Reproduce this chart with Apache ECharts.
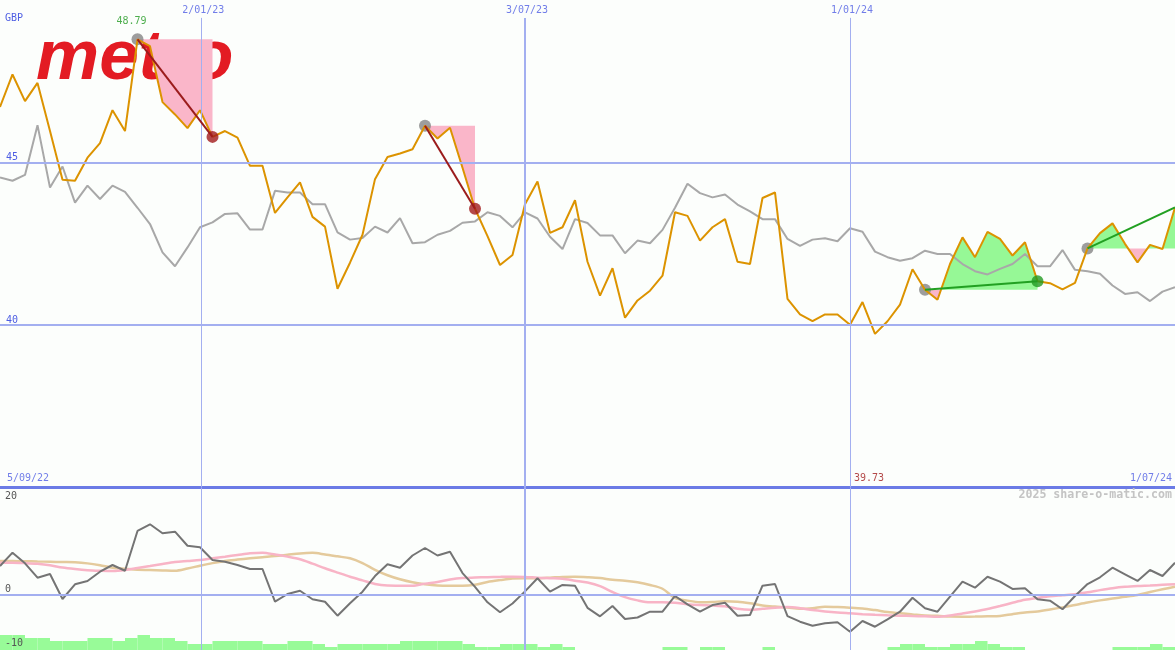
<!DOCTYPE html>
<html><head><meta charset="utf-8">
<script src="https://cdn.jsdelivr.net/npm/echarts@6/dist/echarts.min.js"></script>
<style>html,body{margin:0;padding:0;background:#fcfefc}#c{width:1175px;height:650px}</style>
</head><body><div id="c"></div><script>
// ---- data (weekly points, index 0 = 5/09/22, index 94 = 1/07/24) ----
const price = [46.71,47.71,46.89,47.45,45.97,44.47,44.44,45.15,45.60,46.61,
45.97,48.79,48.58,46.86,46.48,46.06,46.61,45.79,45.97,45.77,
44.90,44.90,43.45,43.93,44.39,43.33,43.03,41.12,41.92,42.78,
44.49,45.17,45.28,45.41,46.13,45.74,46.07,44.84,43.58,42.74,
41.85,42.16,43.72,44.42,42.84,43.01,43.84,41.95,40.91,41.75,
40.23,40.76,41.06,41.52,43.47,43.36,42.60,43.01,43.26,41.95,
41.88,43.91,44.08,40.81,40.33,40.12,40.33,40.33,40.01,40.71,
39.73,40.12,40.63,41.72,41.09,40.78,41.88,42.70,42.09,42.87,
42.65,42.14,42.55,41.35,41.29,41.10,41.30,42.36,42.83,43.13,
42.50,41.93,42.47,42.34,43.62];
const relative = [44.54,44.44,44.62,46.15,44.23,44.88,43.77,44.29,43.88,44.29,
44.10,43.61,43.11,42.24,41.81,42.39,43.01,43.16,43.42,43.44,
42.94,42.94,44.13,44.08,44.08,43.72,43.72,42.85,42.63,42.68,
43.03,42.85,43.29,42.52,42.55,42.78,42.90,43.15,43.19,43.47,
43.36,43.01,43.47,43.28,42.72,42.34,43.26,43.14,42.76,42.76,
42.21,42.60,42.52,42.93,43.61,44.35,44.06,43.93,44.02,43.71,
43.50,43.26,43.26,42.65,42.44,42.63,42.67,42.58,42.98,42.87,
42.26,42.09,41.98,42.06,42.29,42.19,42.19,41.88,41.66,41.56,
41.73,41.88,42.19,41.81,41.81,42.31,41.70,41.66,41.58,41.22,
40.96,41.01,40.74,41.03,41.17];
const momentum = [5.31,7.78,5.81,3.15,3.83,-0.80,1.93,2.54,4.26,5.50,
4.44,11.80,13.04,11.37,11.67,9.07,8.78,6.43,6.11,5.50,
4.76,4.76,-1.30,0.13,0.74,-0.85,-1.30,-3.89,-1.59,0.56,
3.46,5.63,5.00,7.26,8.65,7.26,7.96,4.00,1.45,-1.41,
-3.26,-1.63,0.62,3.04,0.56,1.80,1.64,-2.43,-4.00,-2.09,
-4.50,-4.22,-3.15,-3.15,-0.24,-1.78,-3.15,-1.91,-1.48,-3.90,
-3.76,1.67,1.98,-3.98,-5.00,-5.74,-5.30,-5.11,-6.85,-4.87,
-5.93,-4.56,-3.15,-0.56,-2.52,-3.15,-0.37,2.41,1.30,3.33,
2.41,1.06,1.19,-0.85,-1.11,-2.70,-0.24,1.98,3.22,5.00,
3.78,2.54,4.57,3.46,5.93];
const avgPink = [5.93,5.93,5.85,5.72,5.45,5.02,4.75,4.55,4.45,4.39,
4.57,4.95,5.31,5.70,6.06,6.25,6.43,6.75,7.04,7.35,
7.66,7.78,7.45,7.05,6.56,5.75,4.89,4.10,3.33,2.65,
1.98,1.70,1.67,1.67,2.05,2.35,2.80,3.08,3.17,3.25,
3.30,3.33,3.30,3.15,3.05,2.95,2.60,2.25,1.60,0.50,
-0.45,-1.05,-1.41,-1.41,-1.50,-1.75,-1.90,-2.00,-2.15,-2.60,
-2.80,-2.60,-2.40,-2.30,-2.50,-2.85,-3.10,-3.30,-3.45,-3.60,
-3.72,-3.82,-3.88,-3.95,-4.00,-4.07,-3.85,-3.50,-3.10,-2.65,
-2.10,-1.50,-0.95,-0.60,-0.30,-0.10,0.10,0.45,0.85,1.20,
1.45,1.60,1.70,1.82,1.93];
const avgTan = [6.24,6.22,6.20,6.15,6.10,6.05,6.00,5.80,5.45,5.00,
4.80,4.62,4.57,4.50,4.44,4.85,5.37,5.85,6.24,6.50,
6.74,6.95,7.15,7.40,7.65,7.75,7.45,7.10,6.74,5.85,
4.60,3.60,2.85,2.30,1.95,1.72,1.67,1.67,1.85,2.35,
2.70,3.00,3.04,3.04,3.15,3.30,3.33,3.25,3.10,2.75,
2.60,2.30,1.80,1.10,-0.60,-1.10,-1.40,-1.35,-1.20,-1.30,
-1.60,-2.00,-2.20,-2.35,-2.60,-2.50,-2.25,-2.30,-2.40,-2.55,
-2.85,-3.20,-3.45,-3.65,-3.85,-3.90,-4.05,-4.07,-4.05,-4.00,
-3.94,-3.60,-3.30,-3.10,-2.75,-2.35,-1.90,-1.45,-1.05,-0.70,
-0.40,-0.05,0.50,1.00,1.48];
const volume = [15,15,12,12,9,9,9,12,12,9,
12,15,12,12,9,6,6,9,9,9,
9,6,6,9,9,6,3,6,6,6,
6,6,9,9,9,9,9,6,3,3,
6,6,6,3,6,3,0,0,0,0,
0,0,0,3,3,0,3,3,0,0,
0,3,0,0,0,0,0,0,0,0,
0,3,6,6,3,3,6,6,9,6,
3,3,0,0,0,0,0,0,0,3,
3,3,6,3];
const dateTicks = ['2/01/23','3/07/23','1/01/24'];
const dateTickPos = [16.1, 42, 68];
const priceGridLevels = [40, 45];
const firstDate = '5/09/22';
const lastDate = '1/07/24';
const currency = 'GBP';
// peak-to-trough and trough-to-peak moves (start index, end index, marker at end?)
const moves = [[11,17,true],[34,38,true],[74,83,true],[87,94,false]];

// ---- styles ----
const GRIDBLUE = '#a3aff0', TXTBLUE = '#4d5de3', SEPBLUE = '#6b7be6';
const PINK = '#fab6c9', GREEN = '#96f896';
const FONT = 'DejaVu Sans Mono';

const chart = echarts.init(document.getElementById('c'));
const pairs = arr => arr.map((v, i) => [i, v]);
const maxI = price.length - 1;
const minIdx = price.indexOf(Math.min(...price));
const peakIdx = price.indexOf(Math.max(...price));

function fillSeries(m) {
  const from = m[0], to = m[1];
  return {
    type: 'custom', xAxisIndex: 0, yAxisIndex: 0, z: 2, silent: true,
    data: [[from, to]],
    renderItem: function (params, api) {
      const base = price[from];
      const pts = [];
      for (let j = from; j <= to; j++) {
        pts.push([j, price[j]]);
        if (j < to) {
          const a = price[j] - base, b = price[j + 1] - base;
          if (a * b < 0) pts.push([j + a / (a - b), base]);
        }
      }
      const up = [[from, base]].concat(pts.map(p => [p[0], Math.max(p[1], base)]), [[to, base]]);
      const dn = [[from, base]].concat(pts.map(p => [p[0], Math.min(p[1], base)]), [[to, base]]);
      return { type: 'group', children: [
        { type: 'polygon', shape: { points: up.map(p => api.coord(p)) }, style: { fill: GREEN } },
        { type: 'polygon', shape: { points: dn.map(p => api.coord(p)) }, style: { fill: PINK } }
      ]};
    }
  };
}

const vline = (k) => ({ color: GRIDBLUE, width: k === 1 ? 2 : 1, type: 'solid' });
const series = [];
// vertical date lines + horizontal price levels, main panel
series.push({
  type: 'line', xAxisIndex: 0, yAxisIndex: 0, z: 1, data: [], silent: true,
  markLine: { symbol: ['none', 'none'], label: { show: false }, animation: false,
    data: dateTickPos.map((x, k) => [
      { coord: [x, 49.45], lineStyle: vline(k) }, { coord: [x, 35] }]).concat(
      priceGridLevels.map(v => ({ yAxis: v, lineStyle: { color: GRIDBLUE, width: 2, type: 'solid' } }))) }
});
// vertical date lines, lower panel
series.push({
  type: 'line', xAxisIndex: 3, yAxisIndex: 2, z: 1, data: [], silent: true,
  markLine: { symbol: ['none', 'none'], label: { show: false }, animation: false,
    data: dateTickPos.map((x, k) => [{ coord: [x, 0], lineStyle: vline(k) }, { coord: [x, 162] }]) }
});
// zero line, lower panel
series.push({
  type: 'line', xAxisIndex: 1, yAxisIndex: 1, z: 1, data: [], silent: true,
  markLine: { symbol: ['none', 'none'], label: { show: false }, animation: false,
    lineStyle: { color: GRIDBLUE, width: 2, type: 'solid' }, data: [{ yAxis: 0 }] }
});
moves.forEach(m => series.push(fillSeries(m)));
series.push({ type: 'line', name: 'relative', xAxisIndex: 0, yAxisIndex: 0, z: 3, data: pairs(relative),
  symbol: 'none', lineStyle: { color: '#a8a8a8', width: 2 } });
series.push({ type: 'line', name: 'price', xAxisIndex: 0, yAxisIndex: 0, z: 4, data: pairs(price),
  symbol: 'none', lineStyle: { color: '#dc9300', width: 2 } });
moves.forEach(m => {
  const up = price[m[1]] >= price[m[0]];
  series.push({ type: 'line', xAxisIndex: 0, yAxisIndex: 0, z: 5, symbol: 'none',
    data: [[m[0], price[m[0]]], [m[1], price[m[1]]]],
    lineStyle: { color: up ? '#22a022' : '#9b1c1c', width: 2 } });
});
series.push({ type: 'scatter', xAxisIndex: 0, yAxisIndex: 0, z: 3, symbolSize: 12,
  itemStyle: { color: '#858585' }, data: moves.map(m => [m[0], price[m[0]]]) });
series.push({ type: 'scatter', xAxisIndex: 0, yAxisIndex: 0, z: 5, symbolSize: 12,
  data: moves.filter(m => m[2]).map(m => ({ value: [m[1], price[m[1]]],
    itemStyle: { color: price[m[1]] >= price[m[0]] ? '#229a22' : '#a11c1c' } })) });
// text labels tied to the axes
const lbl = (color, off) => ({ show: true, position: 'inside', offset: off, color: color, fontFamily: FONT, fontSize: 10 });
series.push({ type: 'scatter', xAxisIndex: 0, yAxisIndex: 0, z: 7, symbolSize: 0, silent: true,
  data: [].concat(
    dateTicks.map((t, k) => ({ value: [dateTickPos[k], 50], label: Object.assign(lbl(TXTBLUE, [2, 10.5]), { formatter: t }) })),
    [{ value: [peakIdx, price[peakIdx]], label: Object.assign(lbl('#229a22', [-6, -18]), { formatter: price[peakIdx].toFixed(2) }) },
     { value: [minIdx, 35], label: Object.assign(lbl('#a11c1c', [-6, -9]), { formatter: price[minIdx].toFixed(2) }) },
     { value: [0, 35], label: Object.assign(lbl(TXTBLUE, [28, -9]), { formatter: firstDate }) },
     { value: [maxI, 35], label: Object.assign(lbl(TXTBLUE, [-24, -9]), { formatter: lastDate }) }]) });
// lower panel
series.push({ type: 'bar', xAxisIndex: 2, yAxisIndex: 2, z: 1, data: pairs(volume), barWidth: 12.5,
  itemStyle: { color: '#98fb98' }, silent: true });
series.push({ type: 'line', xAxisIndex: 1, yAxisIndex: 1, z: 3, data: pairs(avgTan), symbol: 'none', smooth: 0.3,
  lineStyle: { color: '#e4ca9c', width: 2.5 } });
series.push({ type: 'line', xAxisIndex: 1, yAxisIndex: 1, z: 3, data: pairs(avgPink), symbol: 'none', smooth: 0.3,
  lineStyle: { color: '#f8b4c6', width: 2.5 } });
series.push({ type: 'line', xAxisIndex: 1, yAxisIndex: 1, z: 4, data: pairs(momentum), symbol: 'none',
  lineStyle: { color: '#747474', width: 2 } });

chart.setOption({
  backgroundColor: '#fcfefc',
  animation: false,
  textStyle: { fontFamily: FONT },
  grid: [
    { left: 0, right: 0, top: -1.3, height: 489 },
    { left: 0, right: 0, top: 486.7, height: 162 },
    { left: 0, right: 0, top: 488, height: 162 }
  ],
  xAxis: [
    { gridIndex: 0, type: 'value', min: 0, max: maxI,
      axisLine: { show: true, onZero: false, lineStyle: { color: SEPBLUE, width: 3 } },
      axisTick: { show: false }, axisLabel: { show: false }, splitLine: { show: false } },
    { gridIndex: 1, type: 'value', min: 0, max: maxI, show: false },
    { gridIndex: 2, type: 'value', min: -0.5, max: maxI - 0.5, show: false },
    { gridIndex: 2, type: 'value', min: 0, max: maxI, show: false }
  ],
  yAxis: [
    { gridIndex: 0, type: 'value', min: 35, max: 50, interval: 5, z: 10,
      axisLine: { show: false }, axisTick: { show: false }, splitLine: { show: false },
      axisLabel: { inside: true, margin: 6, verticalAlign: 'bottom', color: TXTBLUE, fontSize: 10, fontFamily: FONT,
        formatter: v => priceGridLevels.indexOf(v) >= 0 ? String(v) : '' } },
    { gridIndex: 1, type: 'value', min: -10, max: 20, interval: 10, z: 10,
      axisLine: { show: false }, axisTick: { show: false }, splitLine: { show: false },
      axisLabel: { inside: true, margin: 5, verticalAlign: 'bottom', color: '#555', fontSize: 10, fontFamily: FONT,
        formatter: v => (v === 0 || v === -10) ? String(v) : '' } },
    { gridIndex: 2, type: 'value', min: 0, max: 162, show: false }
  ],
  graphic: [
    { type: 'text', z: 0, silent: true, left: 36, top: 24,
      style: { text: 'metro', fill: '#e31b23', font: 'italic bold 71px "Liberation Sans"' } },
    { type: 'text', z: 100, left: 5, top: 13, style: { text: currency, fill: TXTBLUE, font: '10px "DejaVu Sans Mono"' } },
    { type: 'text', z: 100, left: 5, top: 491, style: { text: '20', fill: '#555', font: '10px "DejaVu Sans Mono"' } },
    { type: 'text', z: 100, right: 3, top: 489, style: { text: '2025 share-o-matic.com', fill: '#c4c4c4', font: 'bold 11.6px "DejaVu Sans Mono"' } }
  ],
  series: series
});
</script></body></html>
